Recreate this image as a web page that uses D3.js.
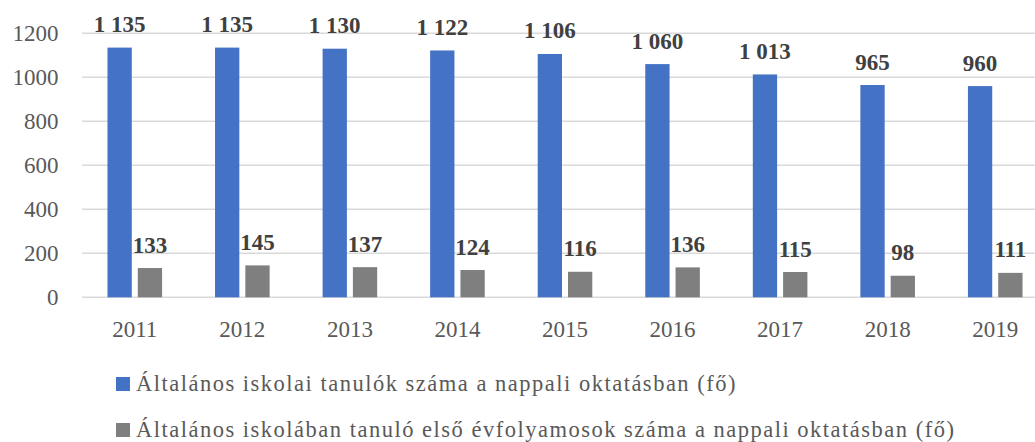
<!DOCTYPE html>
<html>
<head>
  <meta charset="utf-8">
  <script src="https://d3js.org/d3.v7.min.js"></script>
  <style>
    body { margin: 0; background: #fff; }
    text { font-family: "Liberation Serif", "DejaVu Serif", serif; }
  </style>
</head>
<body>
  <script>
    // Data
    const years = ["2011", "2012", "2013", "2014", "2015", "2016", "2017", "2018", "2019"];
    const pupils = [1135, 1135, 1130, 1122, 1106, 1060, 1013, 965, 960];
    const firstGraders = [133, 145, 137, 124, 116, 136, 115, 98, 111];
    const yTicks = [0, 200, 400, 600, 800, 1000, 1200];
    const seriesNames = [
      "Általános iskolai tanulók száma a nappali oktatásban (fő)",
      "Általános iskolában tanuló első évfolyamosok száma a nappali oktatásban (fő)"
    ];
    const colors = ["#4472C4", "#7F7F7F"];

    const width = 1035, height = 442;

    const svg = d3.select("body").append("svg")
      .attr("width", width)
      .attr("height", height);

    // Scales
    const x = d3.scaleBand()
      .domain(years)
      .range([81, 1049]);

    const y = d3.scaleLinear()
      .domain([0, 1200])
      .range([297.3, 33.3]);

    // thousands separated by a space, as in the source
    const fmt = v => {
      const s = String(v);
      return s.length > 3 ? s.slice(0, s.length - 3) + " " + s.slice(-3) : s;
    };

    // Gridlines
    svg.append("g")
      .selectAll("line")
      .data(yTicks)
      .join("line")
      .attr("x1", 82)
      .attr("x2", width)
      .attr("y1", d => y(d))
      .attr("y2", d => y(d))
      .attr("stroke", "#D9D9D9")
      .attr("stroke-width", 1.5);

    // Y axis labels
    svg.append("g")
      .selectAll("text")
      .data(yTicks)
      .join("text")
      .attr("x", 58.5)
      .attr("y", d => y(d))
      .attr("dy", "0.33em")
      .attr("text-anchor", "end")
      .attr("fill", "#595959")
      .attr("font-size", 23)
      .text(d => d);

    // X axis labels
    svg.append("g")
      .selectAll("text")
      .data(years)
      .join("text")
      .attr("x", d => x(d) + x.bandwidth() / 2)
      .attr("y", 337)
      .attr("text-anchor", "middle")
      .attr("fill", "#595959")
      .attr("font-size", 23)
      .text(d => d);

    const barW = 24.3;
    const series = [
      { values: pupils, offset: -27.3, color: colors[0] },
      { values: firstGraders, offset: 3, color: colors[1] }
    ];

    series.forEach(s => {
      const g = svg.append("g");
      g.selectAll("rect")
        .data(years)
        .join("rect")
        .attr("x", (d) => x(d) + x.bandwidth() / 2 + s.offset)
        .attr("y", (d, i) => y(s.values[i]))
        .attr("width", barW)
        .attr("height", (d, i) => y(0) - y(s.values[i]))
        .attr("fill", s.color);

      g.selectAll("text")
        .data(years)
        .join("text")
        .attr("x", d => x(d) + x.bandwidth() / 2 + s.offset + barW / 2)
        .attr("y", (d, i) => y(s.values[i]) - 15.5)
        .attr("text-anchor", "middle")
        .attr("fill", "#404040")
        .attr("font-size", 23)
        .attr("font-weight", "bold")
        .text((d, i) => fmt(s.values[i]));
    });

    // Legend
    const legend = svg.append("g")
      .selectAll("g")
      .data(seriesNames)
      .join("g")
      .attr("transform", (d, i) => `translate(116, ${377 + i * 46})`);

    legend.append("rect")
      .attr("width", 14)
      .attr("height", 14)
      .attr("fill", (d, i) => colors[i]);

    legend.append("text")
      .attr("x", 20)
      .attr("y", 14)
      .attr("fill", "#595959")
      .attr("font-size", 22.5)
      .attr("letter-spacing", 1.5)
      .text(d => d);
  </script>
</body>
</html>
